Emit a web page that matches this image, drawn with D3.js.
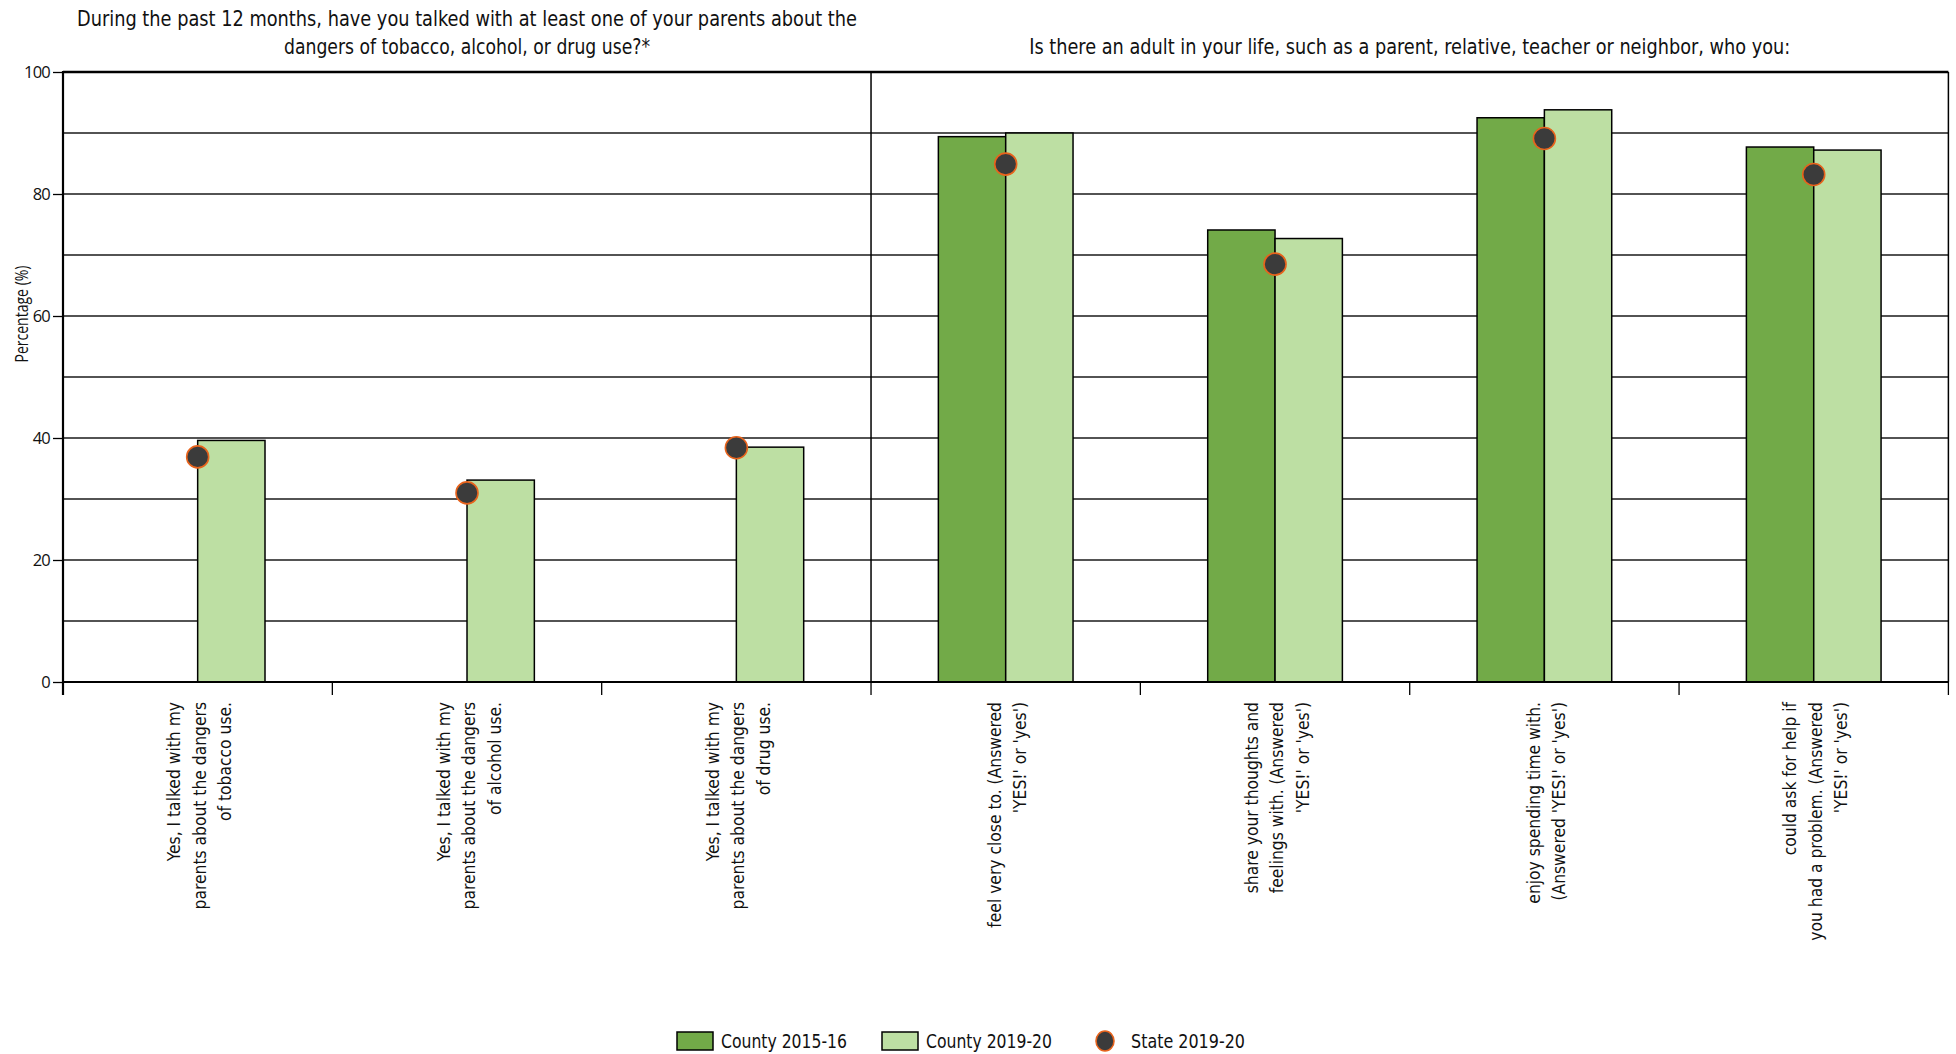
<!DOCTYPE html>
<html><head><meta charset="utf-8">
<script src="https://cdn.jsdelivr.net/npm/d3@7"></script>
<style>
body{margin:0;background:#fff;}
svg{display:block;}
</style></head>
<body>
<svg id="chart" width="1956" height="1054"></svg>
<script>
const categories = [
  ["Yes, I talked with my", "parents about the dangers", "of tobacco use."],
  ["Yes, I talked with my", "parents about the dangers", "of alcohol use."],
  ["Yes, I talked with my", "parents about the dangers", "of drug use."],
  ["feel very close to. (Answered", "'YES!' or 'yes')"],
  ["share your thoughts and", "feelings with. (Answered", "'YES!' or 'yes')"],
  ["enjoy spending time with.", "(Answered 'YES!' or 'yes')"],
  ["could ask for help if", "you had a problem. (Answered", "'YES!' or 'yes')"]
];
const county1516 = [null, null, null, 89.4, 74.1, 92.5, 87.7];
const county1920 = [39.6, 33.1, 38.5, 90.0, 72.7, 93.8, 87.2];
const state1920 = [36.9, 31.0, 38.4, 84.9, 68.5, 89.1, 83.2];
const seriesNames = ["County 2015-16", "County 2019-20", "State 2019-20"];
const yTicks = [0, 20, 40, 60, 80, 100];
const titleLeft = ["During the past 12 months, have you talked with at least one of your parents about the", "dangers of tobacco, alcohol, or drug use?*"];
const titleRight = "Is there an adult in your life, such as a parent, relative, teacher or neighbor, who you:";
const yLabel = "Percentage (%)";

const svg = d3.select("#chart");
const L = 63, R = 1948.4, T = 72, B = 682;
const darkG = "#72aa48", lightG = "#bddfa3";
const condensed = "'Liberation Sans Narrow','Arial Narrow','DejaVu Sans Condensed',sans-serif";

const x = d3.scaleBand().domain(d3.range(categories.length)).range([L, R]).padding(0);
const bw = x.bandwidth();
const xs = d3.scaleBand().domain([0, 1]).range([bw * 0.25, bw * 0.75]).padding(0);
const y = d3.scaleLinear().domain([0, 100]).range([B, T]);

// fit a text element horizontally (condensed look) to a target width
function fit(sel, w) {
  sel.each(function() {
    const len = this.getComputedTextLength();
    if (len > w) d3.select(this).attr("textLength", w).attr("lengthAdjust", "spacingAndGlyphs");
  });
}

// gridlines
svg.append("g").selectAll("line").data(d3.range(10, 100, 10)).join("line")
  .attr("x1", L).attr("x2", R).attr("y1", d => y(d)).attr("y2", d => y(d))
  .attr("stroke", "#1a1a1a").attr("stroke-width", 1.7);

// top border (100)
svg.append("line").attr("x1", L).attr("x2", R).attr("y1", y(100)).attr("y2", y(100))
  .attr("stroke", "#000").attr("stroke-width", 2.6);
// right border, divider
svg.append("line").attr("x1", R).attr("x2", R).attr("y1", y(100)).attr("y2", y(0))
  .attr("stroke", "#000").attr("stroke-width", 1.5);
svg.append("line").attr("x1", x(3)).attr("x2", x(3)).attr("y1", y(100)).attr("y2", y(0))
  .attr("stroke", "#000").attr("stroke-width", 1.5);

// bars
const barData = [];
categories.forEach((c, i) => {
  if (county1516[i] != null) barData.push({i, s: 0, v: county1516[i]});
  if (county1920[i] != null) barData.push({i, s: 1, v: county1920[i]});
});
svg.append("g").selectAll("rect").data(barData).join("rect")
  .attr("x", d => x(d.i) + xs(d.s))
  .attr("width", xs.bandwidth())
  .attr("y", d => y(d.v))
  .attr("height", d => y(0) - y(d.v))
  .attr("fill", d => d.s === 0 ? darkG : lightG)
  .attr("stroke", "#000").attr("stroke-width", 1.5);

// x axis line (0)
svg.append("line").attr("x1", L).attr("x2", R).attr("y1", y(0)).attr("y2", y(0))
  .attr("stroke", "#000").attr("stroke-width", 2.2);

// x ticks at band boundaries
const bounds = d3.range(categories.length + 1).map(i => i < categories.length ? x(i) : R);
svg.append("g").selectAll("line").data(bounds).join("line")
  .attr("x1", d => d).attr("x2", d => d).attr("y1", y(0)).attr("y2", y(0) + 13)
  .attr("stroke", "#000").attr("stroke-width", 1.3);

// y axis
const yAxis = svg.append("g").attr("transform", `translate(${L},0)`)
  .call(d3.axisLeft(y).tickValues(yTicks).tickSize(10).tickPadding(3));
yAxis.select(".domain").remove();
yAxis.selectAll(".tick line").attr("stroke", "#000").attr("stroke-width", 1.3);
yAxis.selectAll(".tick text").attr("font-family", "'Open Sans',sans-serif").attr("font-size", 16.5)
  .attr("fill", "#111").attr("letter-spacing", -0.8);
svg.append("line").attr("x1", L).attr("x2", L).attr("y1", y(100) - 1).attr("y2", y(0) + 13)
  .attr("stroke", "#000").attr("stroke-width", 2.2);

// y label
const yl = svg.append("text").attr("transform", `translate(21,314) rotate(-90)`)
  .attr("text-anchor", "middle").attr("dominant-baseline", "central")
  .attr("font-family", "'Open Sans',sans-serif").attr("font-size", 17.5).attr("fill", "#111")
  .text(yLabel);
fit(yl, 97);

// state dots
svg.append("g").selectAll("ellipse").data(state1920.map((v, i) => ({i, v}))).join("ellipse")
  .attr("cx", d => x(d.i) + bw / 2).attr("cy", d => y(d.v))
  .attr("rx", 11).attr("ry", 11)
  .attr("fill", "#3b3b3b").attr("stroke", "#e8631c").attr("stroke-width", 1.6);

// x labels
const lh = 25.5;
const lab = svg.append("g");
categories.forEach((lines, i) => {
  const cx = x(i) + bw / 2;
  const n = lines.length;
  lines.forEach((t, k) => {
    const lx = cx + 2 + (k - (n - 1) / 2) * lh;
    lab.append("text").attr("transform", `translate(${lx},702) rotate(-90)`)
      .attr("text-anchor", "end").attr("dominant-baseline", "central")
      .attr("font-family", "'DejaVu Sans Condensed','DejaVu Sans',sans-serif").attr("font-size", 17.3).attr("fill", "#111")
      .text(t);
  });
});

// titles
const t1 = svg.append("g");
titleLeft.forEach((t, k) => {
  t1.append("text").attr("x", (L + x(3)) / 2).attr("y", 26 + k * 28)
    .attr("text-anchor", "middle").attr("font-family", condensed).attr("font-size", 22).attr("fill", "#111").text(t);
});
fit(t1.select("text:nth-child(1)"), 780);
fit(t1.select("text:nth-child(2)"), 366);
const t2 = svg.append("text").attr("x", (x(3) + R) / 2).attr("y", 54)
  .attr("text-anchor", "middle").attr("font-family", condensed).attr("font-size", 22).attr("fill", "#111").text(titleRight);
fit(t2, 761);

// legend
const leg = svg.append("g");
const ly = 1041;
leg.append("rect").attr("x", 677).attr("y", ly - 9).attr("width", 36).attr("height", 18).attr("fill", darkG).attr("stroke", "#000").attr("stroke-width", 1.5);
fit(leg.append("text").attr("x", 721).attr("y", ly).attr("dominant-baseline", "central").attr("font-family", condensed).attr("font-size", 20).attr("fill", "#111").text(seriesNames[0]), 126);
leg.append("rect").attr("x", 882).attr("y", ly - 9).attr("width", 36).attr("height", 18).attr("fill", lightG).attr("stroke", "#000").attr("stroke-width", 1.5);
fit(leg.append("text").attr("x", 926).attr("y", ly).attr("dominant-baseline", "central").attr("font-family", condensed).attr("font-size", 20).attr("fill", "#111").text(seriesNames[1]), 126);
leg.append("ellipse").attr("cx", 1105).attr("cy", ly).attr("rx", 9).attr("ry", 10).attr("fill", "#3b3b3b").attr("stroke", "#e8631c").attr("stroke-width", 1.6);
fit(leg.append("text").attr("x", 1131).attr("y", ly).attr("dominant-baseline", "central").attr("font-family", condensed).attr("font-size", 20).attr("fill", "#111").text(seriesNames[2]), 114);
</script>
</body></html>
